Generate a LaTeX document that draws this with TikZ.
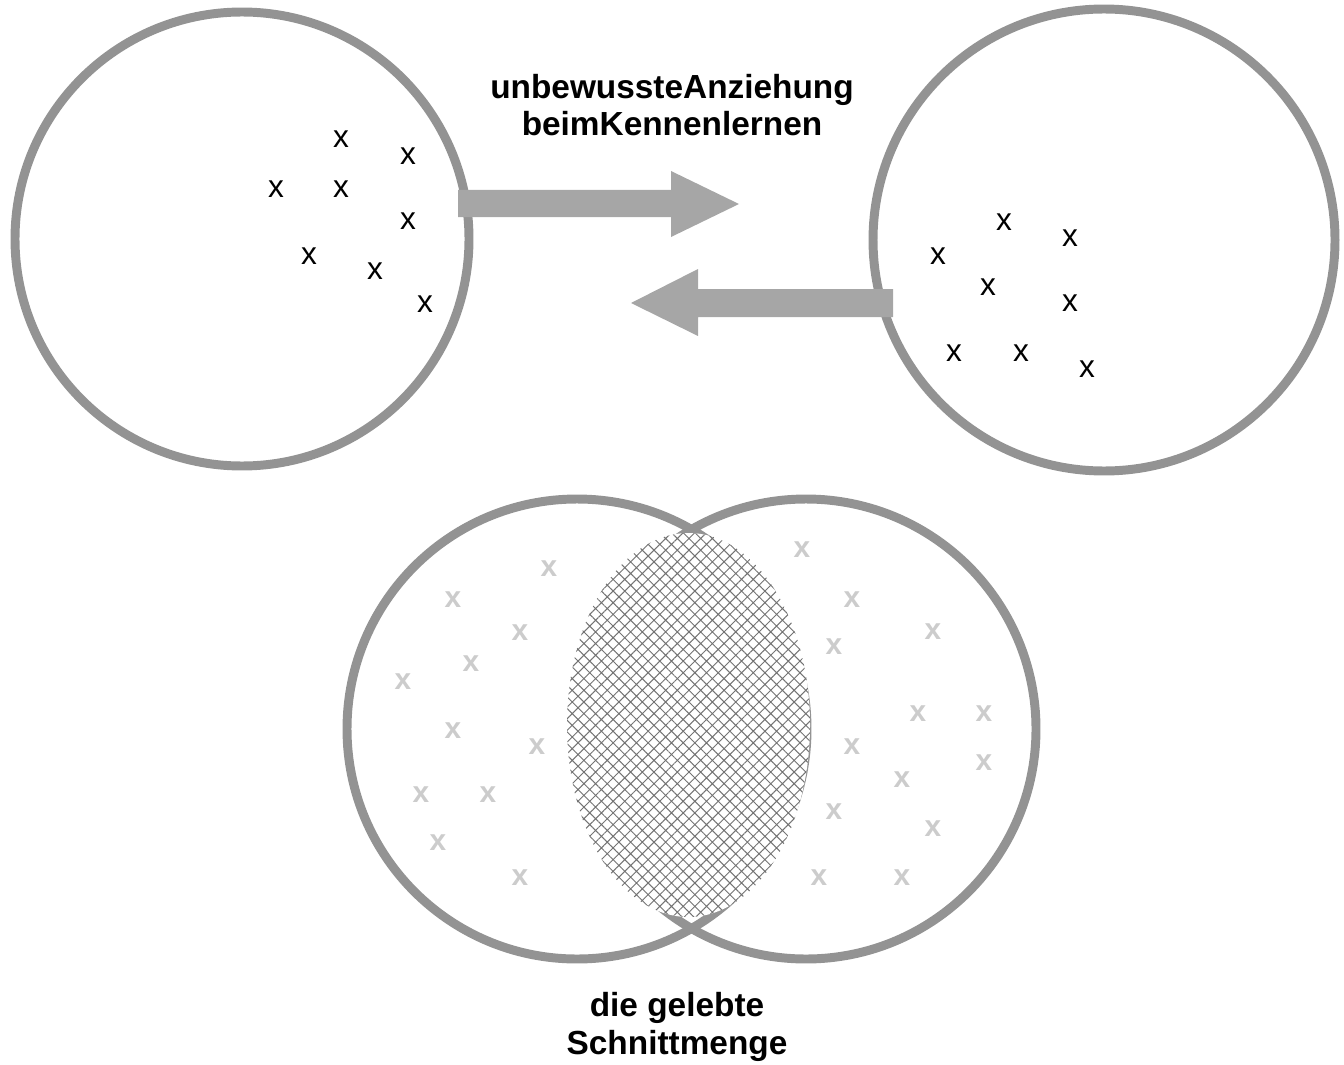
\documentclass[tikz,border=0pt]{standalone}
\usepackage{fontspec}
\setmainfont{Liberation Sans}
\usetikzlibrary{patterns.meta}
\definecolor{ringgrau}{RGB}{147,147,147}
\definecolor{pfeilgrau}{RGB}{166,166,166}
\definecolor{kreuzgrau}{RGB}{204,204,204}
\definecolor{gittergrau}{RGB}{115,115,115}

\begin{document}
\begin{tikzpicture}[x=0.02cm,y=0.02cm,
    ring/.style={draw=ringgrau,line width=5.1pt},
    pfeil/.style={fill=pfeilgrau},
    kreuz/.style={inner sep=0pt,font=\fontsize{18}{18}\selectfont},
    kreuzhell/.style={inner sep=0pt,text=kreuzgrau,font=\fontsize{17}{17}\selectfont\bfseries},
    titel/.style={align=center,font=\fontsize{19}{21.5}\selectfont\bfseries}]
        \useasboundingbox (0,0) rectangle (1344,-1064);
        % oben: die beiden Personen
        \draw[ring] (242,-239) circle (227);
        \draw[ring] (1104,-240) circle (231);
        \foreach \px/\py [count=\i] in {341/139,408/156,276/189,341/189,408/221,309/256,375/271,425/304}
            \node[kreuz] (a\i) at (\px,-\py) {x};
        \foreach \px/\py [count=\i] in {1004/222,1070/238,938/256,988/287,1070/303,954/353,1021/353,1087/369}
            \node[kreuz] (b\i) at (\px,-\py) {x};
        \draw[pfeil,draw=none] (458,-190) -- (671,-190) -- (671,-171) -- (739,-204) -- (671,-237) -- (671,-217) -- (458,-217) -- cycle;
        \draw[pfeil,draw=none] (893,-289) -- (698,-289) -- (698,-269) -- (631,-303) -- (698,-336) -- (698,-317) -- (893,-317) -- cycle;
        \node[titel] (anziehung) at (672,-105) {unbewussteAnziehung\\beimKennenlernen};
        % unten: Schnittmenge
        \draw[ring] (577,-729) circle (230);
        \draw[ring] (806,-729) circle (230);
        \fill[white] (688.5,-725) ellipse (121.5 and 192);
        \fill[pattern={Hatch[angle=45,distance=4.7pt,line width=0.55pt]},pattern color=gittergrau] (688.5,-725) ellipse (121.5 and 192);
        \foreach \px/\py [count=\i] in {549/569,453/600,520/633,471/664,403/682,453/731,537/747,421/795,488/795,438/843,520/878}
            \node[kreuzhell] (c\i) at (\px,-\py) {x};
        \foreach \px/\py [count=\i] in {802/550,852/600,933/632,834/647,918/714,984/714,852/747,984/763,902/780,834/812,933/829,819/878,902/878}
            \node[kreuzhell] (d\i) at (\px,-\py) {x};
        \node[titel] (schnitt) at (677,-1027) {die gelebte\\Schnittmenge};
\end{tikzpicture}
\end{document}
